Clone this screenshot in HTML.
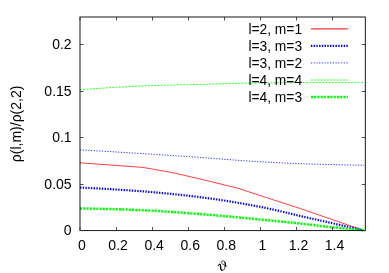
<!DOCTYPE html>
<html><head><meta charset="utf-8"><title>plot</title>
<style>
html,body{margin:0;padding:0;background:#fff;}
svg{display:block;will-change:transform}
text{font-family:"Liberation Sans",sans-serif;font-size:13.8px;fill:#000}
.t{font-size:14px}
.ax{stroke:#000;stroke-width:0.9;fill:none}
.tk{stroke:#383838;stroke-width:0.9;fill:none}
</style></head><body>
<svg width="389" height="273" viewBox="0 0 389 273">
<rect width="389" height="273" fill="#fff"/>
<path d="M80,162.8 L143,167.4 L174.4,173.0 L205.9,180.4 L237.4,188.1 L268.9,198.4 L300.4,208.6 L331.8,219.4 L363.4,230.3" fill="none" stroke="#ff0000" stroke-width="0.75"/>
<path d="M80.0,187.60 L84.0,187.76 L88.0,187.94 L92.0,188.13 L96.0,188.33 L100.0,188.54 L103.9,188.76 L107.9,188.99 L111.9,189.23 L115.9,189.48 L119.9,189.74 L123.9,190.00 L127.9,190.28 L131.9,190.56 L135.9,190.85 L139.9,191.14 L143.9,191.45 L147.9,191.77 L151.8,192.10 L155.8,192.45 L159.8,192.81 L163.8,193.18 L167.8,193.57 L171.8,193.97 L175.8,194.38 L179.8,194.81 L183.8,195.25 L187.8,195.70 L191.8,196.16 L195.8,196.63 L199.7,197.11 L203.7,197.62 L207.7,198.15 L211.7,198.70 L215.7,199.27 L219.7,199.86 L223.7,200.47 L227.7,201.10 L231.7,201.75 L235.7,202.42 L239.7,203.10 L243.7,203.79 L247.6,204.50 L251.6,205.22 L255.6,205.96 L259.6,206.71 L263.6,207.50 L267.6,208.34 L271.6,209.21 L275.6,210.11 L279.6,211.04 L283.6,211.98 L287.6,212.94 L291.6,213.90 L295.5,214.87 L299.5,215.82 L303.5,216.77 L307.5,217.69 L311.5,218.59 L315.5,219.46 L319.5,220.33 L323.5,221.22 L327.5,222.12 L331.5,223.02 L335.5,223.93 L339.5,224.83 L343.4,225.72 L347.4,226.62 L351.4,227.51 L355.4,228.41 L359.4,229.31 L363.4,230.20" fill="none" stroke="#0000ff" stroke-width="2.2" stroke-dasharray="1.4 1.33"/>
<path d="M80.0,149.90 L84.0,150.12 L88.0,150.34 L92.0,150.57 L96.0,150.79 L100.0,151.02 L104.0,151.25 L108.0,151.49 L112.0,151.72 L116.0,151.96 L120.0,152.20 L124.0,152.44 L128.0,152.68 L132.0,152.93 L136.0,153.18 L140.0,153.43 L144.0,153.68 L148.0,153.94 L152.1,154.20 L156.1,154.46 L160.1,154.72 L164.1,154.99 L168.1,155.25 L172.1,155.52 L176.1,155.79 L180.1,156.07 L184.1,156.34 L188.1,156.62 L192.1,156.89 L196.1,157.17 L200.1,157.45 L204.1,157.73 L208.1,158.03 L212.1,158.33 L216.1,158.63 L220.1,158.94 L224.1,159.25 L228.1,159.56 L232.1,159.86 L236.1,160.16 L240.1,160.45 L244.1,160.73 L248.1,161.00 L252.1,161.25 L256.1,161.49 L260.1,161.72 L264.1,161.94 L268.1,162.16 L272.1,162.37 L276.1,162.58 L280.1,162.78 L284.1,162.97 L288.1,163.16 L292.1,163.34 L296.2,163.51 L300.2,163.66 L304.2,163.81 L308.2,163.94 L312.2,164.06 L316.2,164.18 L320.2,164.30 L324.2,164.41 L328.2,164.52 L332.2,164.62 L336.2,164.71 L340.2,164.81 L344.2,164.89 L348.2,164.97 L352.2,165.04 L356.2,165.10 L360.2,165.16 L364.2,165.20" fill="none" stroke="#0000ff" stroke-width="0.8" stroke-dasharray="1.25 1.48"/>
<path d="M80.0,89.75 L84.0,89.44 L88.0,89.15 L92.0,88.86 L96.0,88.58 L100.0,88.31 L104.0,88.05 L108.0,87.80 L112.0,87.56 L116.0,87.32 L120.0,87.10 L124.0,86.88 L128.0,86.67 L132.0,86.48 L136.0,86.29 L140.0,86.11 L144.0,85.94 L148.0,85.78 L152.1,85.62 L156.1,85.48 L160.1,85.34 L164.1,85.22 L168.1,85.10 L172.1,84.99 L176.1,84.89 L180.1,84.80 L184.1,84.71 L188.1,84.63 L192.1,84.54 L196.1,84.45 L200.1,84.35 L204.1,84.24 L208.1,84.13 L212.1,84.01 L216.1,83.89 L220.1,83.78 L224.1,83.66 L228.1,83.54 L232.1,83.44 L236.1,83.34 L240.1,83.24 L244.1,83.16 L248.1,83.10 L252.1,83.04 L256.1,82.99 L260.1,82.95 L264.1,82.91 L268.1,82.87 L272.1,82.83 L276.1,82.79 L280.1,82.73 L284.1,82.68 L288.1,82.62 L292.1,82.56 L296.2,82.50 L300.2,82.45 L304.2,82.42 L308.2,82.40 L312.2,82.40 L316.2,82.40 L320.2,82.40 L324.2,82.40 L328.2,82.40 L332.2,82.40 L336.2,82.40 L340.2,82.40 L344.2,82.40 L348.2,82.40 L352.2,82.40 L356.2,82.40 L360.2,82.40 L364.2,82.40" fill="none" stroke="#00ff00" stroke-width="0.8" stroke-dasharray="2.1 1.13"/>
<path d="M80.0,208.50 L84.0,208.53 L88.0,208.58 L92.0,208.64 L96.0,208.72 L100.0,208.80 L103.9,208.90 L107.9,209.00 L111.9,209.11 L115.9,209.24 L119.9,209.36 L123.9,209.50 L127.9,209.63 L131.9,209.78 L135.9,209.92 L139.9,210.07 L143.9,210.24 L147.9,210.43 L151.8,210.64 L155.8,210.87 L159.8,211.12 L163.8,211.38 L167.8,211.65 L171.8,211.93 L175.8,212.22 L179.8,212.52 L183.8,212.82 L187.8,213.12 L191.8,213.43 L195.8,213.73 L199.7,214.03 L203.7,214.35 L207.7,214.67 L211.7,215.00 L215.7,215.34 L219.7,215.69 L223.7,216.05 L227.7,216.41 L231.7,216.78 L235.7,217.16 L239.7,217.54 L243.7,217.92 L247.6,218.30 L251.6,218.69 L255.6,219.07 L259.6,219.46 L263.6,219.84 L267.6,220.23 L271.6,220.61 L275.6,221.00 L279.6,221.39 L283.6,221.79 L287.6,222.20 L291.6,222.61 L295.5,223.03 L299.5,223.47 L303.5,223.91 L307.5,224.37 L311.5,224.84 L315.5,225.37 L319.5,225.88 L323.5,226.33 L327.5,226.75 L331.5,227.15 L335.5,227.55 L339.5,227.94 L343.4,228.34 L347.4,228.72 L351.4,229.10 L355.4,229.48 L359.4,229.84 L363.4,230.20" fill="none" stroke="#00ff00" stroke-width="2.5" stroke-dasharray="2.1 1.15"/>
<rect class="ax" x="80.0" y="17.0" width="285.3" height="213.6"/>
<path class="tk" d="M80.00,230.55 v-3.5 M80.00,17.0 v3.5"/>
<text class="t" x="82.00" y="249.65" text-anchor="middle">0</text>
<path class="tk" d="M116.50,230.55 v-3.5 M116.50,17.0 v3.5"/>
<text class="t" x="118.08" y="249.65" text-anchor="middle">0.2</text>
<path class="tk" d="M152.50,230.55 v-3.5 M152.50,17.0 v3.5"/>
<text class="t" x="154.16" y="249.65" text-anchor="middle">0.4</text>
<path class="tk" d="M188.50,230.55 v-3.5 M188.50,17.0 v3.5"/>
<text class="t" x="190.23" y="249.65" text-anchor="middle">0.6</text>
<path class="tk" d="M224.50,230.55 v-3.5 M224.50,17.0 v3.5"/>
<text class="t" x="226.31" y="249.65" text-anchor="middle">0.8</text>
<path class="tk" d="M260.50,230.55 v-3.5 M260.50,17.0 v3.5"/>
<text class="t" x="262.39" y="249.65" text-anchor="middle">1</text>
<path class="tk" d="M296.50,230.55 v-3.5 M296.50,17.0 v3.5"/>
<text class="t" x="298.47" y="249.65" text-anchor="middle">1.2</text>
<path class="tk" d="M332.50,230.55 v-3.5 M332.50,17.0 v3.5"/>
<text class="t" x="334.55" y="249.65" text-anchor="middle">1.4</text>
<path class="tk" d="M80.0,230.55 h3.5 M365.3,230.55 h-3.5"/>
<text class="t" x="71.6" y="235.35" text-anchor="end">0</text>
<path class="tk" d="M80.0,184.50 h3.5 M365.3,184.50 h-3.5"/>
<text class="t" x="71.6" y="189.30" text-anchor="end">0.05</text>
<path class="tk" d="M80.0,137.50 h3.5 M365.3,137.50 h-3.5"/>
<text class="t" x="71.6" y="142.30" text-anchor="end">0.1</text>
<path class="tk" d="M80.0,91.50 h3.5 M365.3,91.50 h-3.5"/>
<text class="t" x="71.6" y="96.30" text-anchor="end">0.15</text>
<path class="tk" d="M80.0,44.50 h3.5 M365.3,44.50 h-3.5"/>
<text class="t" x="71.6" y="49.30" text-anchor="end">0.2</text>
<text class="t" transform="translate(20.5,123.9) rotate(-90)" text-anchor="middle">ρ(l,m)/ρ(2,2)</text>
<g fill="none" stroke="#000" stroke-linecap="round" stroke-linejoin="round" aria-label="ϑ"><path stroke-width="0.75" d="M218.25,265.5 C218.6,264.5 219.3,264.1 220.1,264.3 C220.8,264.6 220.6,266.5 220.7,268.4 C220.8,269.7 221.4,270.35 222.4,270.35 C223.4,270.35 224.1,269.8 224.6,268.6 C225.2,267.0 225.5,265.2 225.4,263.8 C225.2,262.0 224.3,260.9 223.2,260.9 C222.0,260.9 221.2,261.6 221.3,262.5 C221.5,263.6 223.3,264.6 225.0,265.4 L226.8,266.2"/><path stroke-width="1.0" d="M218.3,265.4 C218.7,264.5 219.3,264.2 220.0,264.4"/><path stroke-width="1.3" d="M220.0,264.5 C220.8,264.8 220.5,267.0 220.7,268.5 C220.8,269.5 221.2,270.0 221.9,270.2"/><path stroke-width="1.1" d="M224.9,262.6 C225.4,263.6 225.5,264.8 225.2,266.3"/></g>
<text x="302.1" y="33.5" text-anchor="end">l=2, m=1</text>
<path d="M310.9,28.9 H347.9" fill="none" stroke="#ff0000" stroke-width="1"/>
<text x="302.1" y="50.5" text-anchor="end">l=3, m=3</text>
<path d="M310.9,45.8 H347.9" fill="none" stroke="#0000ff" stroke-width="2.2" stroke-dasharray="1.4 1.33"/>
<text x="302.1" y="67.5" text-anchor="end">l=3, m=2</text>
<path d="M310.9,62.9 H347.9" fill="none" stroke="#0000ff" stroke-width="0.8" stroke-dasharray="1.25 1.48"/>
<text x="302.1" y="84.5" text-anchor="end">l=4, m=4</text>
<path d="M310.9,80.0 H347.9" fill="none" stroke="#00ff00" stroke-width="0.8" stroke-dasharray="2.1 1.13"/>
<text x="302.1" y="101.5" text-anchor="end">l=4, m=3</text>
<path d="M310.9,97.0 H347.9" fill="none" stroke="#00ff00" stroke-width="2.5" stroke-dasharray="2.1 1.15"/>
</svg></body></html>
